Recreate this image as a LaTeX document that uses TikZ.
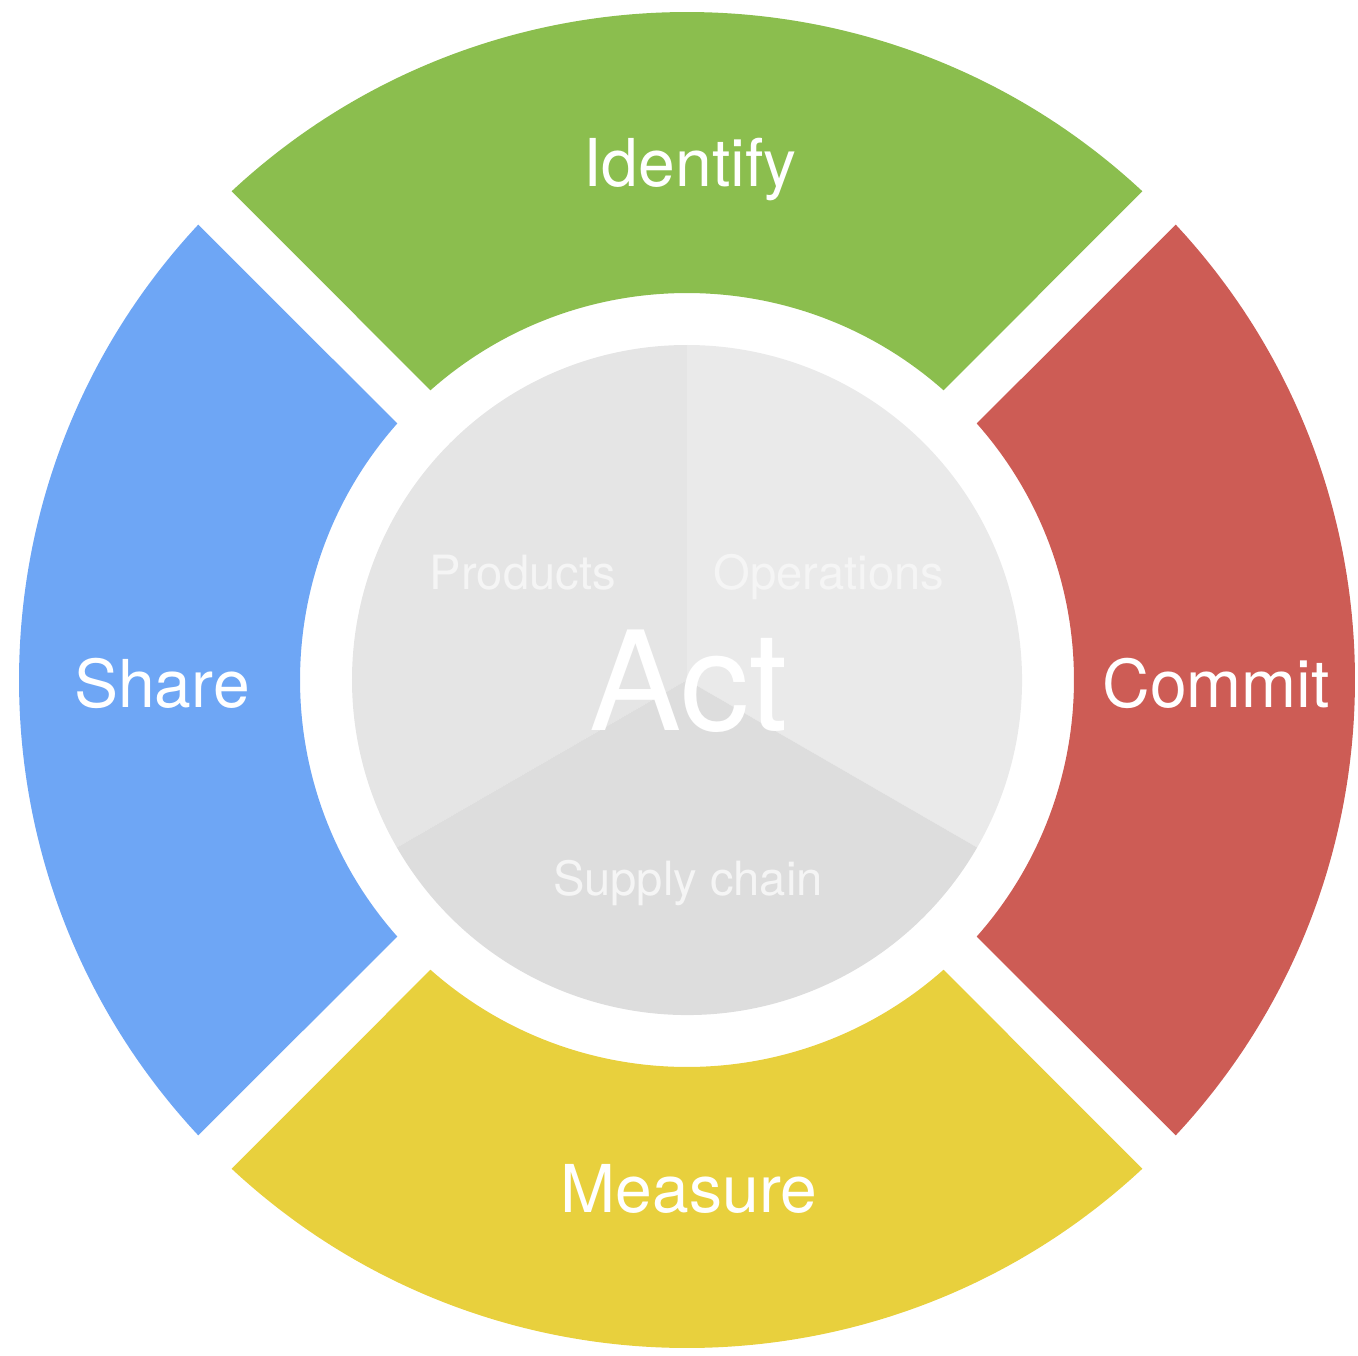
\documentclass[tikz,border=0pt]{standalone}
\usepackage{fontspec}
\setmainfont{TeX Gyre Heros}

\definecolor{identifygreen}{HTML}{8BBE4E}
\definecolor{shareblue}{HTML}{6EA6F5}
\definecolor{commitred}{HTML}{CD5C55}
\definecolor{measureyellow}{HTML}{E8D03D}
\definecolor{productsgray}{HTML}{E5E5E5}
\definecolor{operationsgray}{HTML}{EAEAEA}
\definecolor{supplygray}{HTML}{DDDDDD}
\definecolor{sectortext}{HTML}{F5F5F5}

\begin{document}
\begin{tikzpicture}[x=0.5pt, y=0.5pt,
	ringlabel/.style={text=white, font=\fontsize{33}{40}\selectfont, anchor=base, inner sep=0pt},
	sectorlabel/.style={text=sectortext, font=\fontsize{23.6}{28}\selectfont, anchor=base, inner sep=0pt}]
	
	\useasboundingbox (-687,-675) rectangle (671,680);
	
	% outer ring, four segments with straight gaps
	\foreach \a/\col in {90/identifygreen, 180/shareblue, 0/commitred, 270/measureyellow} {
		\fill[\col] (\a-42.98:668) arc (\a-42.98:\a+42.98:668)
			-- (\a+41.52:387) arc (\a+41.52:\a-41.52:387) -- cycle;
	}
	
	% inner disc
	\fill[productsgray] (0,0) -- (90:335) arc (90:210:335) -- cycle;
	\fill[operationsgray] (0,0) -- (-30:335) arc (-30:90:335) -- cycle;
	\fill[supplygray] (0,0) -- (210:335) arc (210:330:335) -- cycle;
	
	\node[ringlabel] (identify) at (3,493) {Identify};
	\node[ringlabel] (share) at (-525,-27) {Share};
	\node[ringlabel] (commit) at (529,-27) {Commit};
	\node[ringlabel] (measure) at (2,-532) {Measure};
	
	\node[sectorlabel] (products) at (-164,91) {Products};
	\node[sectorlabel] (operations) at (142,91) {Operations};
	\node[sectorlabel] (supply) at (1,-215) {Supply chain};
	
	\node[ringlabel, font=\fontsize{69}{82}\selectfont] (act) at (2,-50) {Act};
	
\end{tikzpicture}
\end{document}
